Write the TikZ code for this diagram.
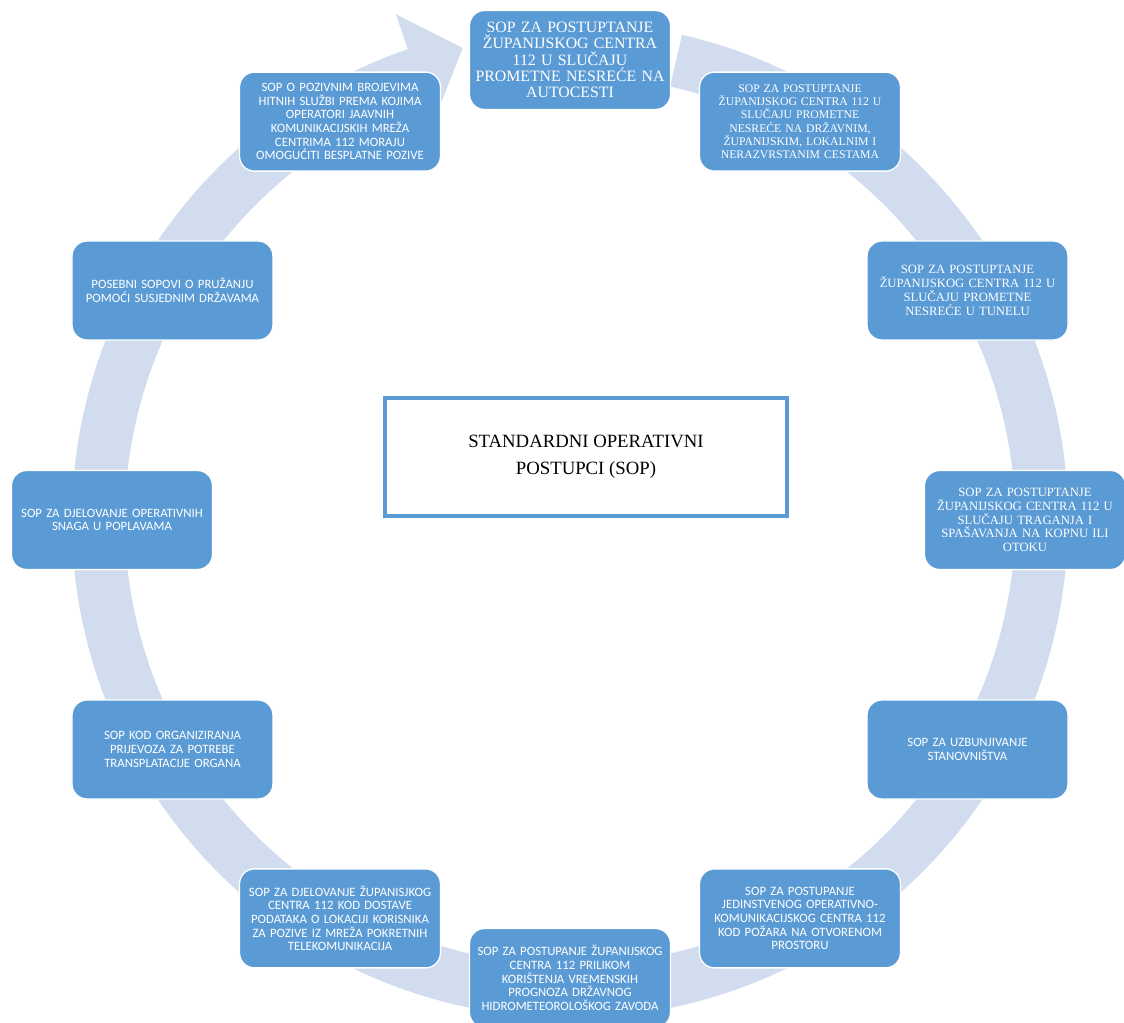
\documentclass[tikz,border=0pt]{standalone}
\usepackage{fontspec}
\setmainfont{Liberation Serif}
\newfontfamily\sopserif{Liberation Serif}
\newfontfamily\sopsans{Carlito}
\usetikzlibrary{positioning}
\definecolor{sopblue}{RGB}{91,155,213}
\definecolor{ringblue}{RGB}{209,221,239}
\begin{document}
\begin{tikzpicture}[x=0.3mm, y=0.3mm,
  sopbox/.style={draw=white, line width=0.4mm, fill=sopblue, rounded corners=4.5mm, minimum width=60.3mm, minimum height=29.7mm, text width=58.5mm, inner sep=0.8mm, align=center, text=white},
  serifsop/.style={sopbox, font=\sopserif\fontsize{10.8}{11.8}\selectfont},
  smallsop/.style={sopbox, font=\sopserif\fontsize{10}{11.3}\selectfont},
  bigsop/.style={sopbox, font=\sopserif\fontsize{13.5}{14}\selectfont},
  sanssop/.style={sopbox, font=\sopsans\fontsize{10.9}{11.7}\selectfont},
  centerbox/.style={draw=sopblue, line width=1mm, fill=white, minimum width=120.6mm, minimum height=35.4mm, align=center, font=\sopserif\fontsize{16}{23}\selectfont}]
\useasboundingbox (-570,-503) rectangle (554,520);
% ring arrow behind the boxes
\fill[ringblue] (77:445) -- (77:498) arc[start angle=77, end angle=-251, radius=498]
  -- (-251:535) -- (-257.2:484) -- (-251:420) -- (-251:445)
  arc[start angle=-251, end angle=77, radius=445] -- cycle;
\node[centerbox] (std) at (16,63) {STANDARDNI OPERATIVNI\\POSTUPCI (SOP)};
\node[bigsop] (autocesta) at (90:460) {SOP ZA POSTUPTANJE\\ŽUPANIJSKOG CENTRA\\112 U SLUČAJU\\PROMETNE NESREĆE NA\\AUTOCESTI};
\node[smallsop] (ceste) at (60:460) {SOP ZA POSTUPTANJE\\ŽUPANIJSKOG CENTRA 112 U\\SLUČAJU PROMETNE\\NESREĆE NA DRŽAVNIM,\\ŽUPANIJSKIM, LOKALNIM I\\NERAZVRSTANIM CESTAMA};
\node[serifsop] (tunel) at (30:459) {SOP ZA POSTUPTANJE\\ŽUPANIJSKOG CENTRA 112 U\\SLUČAJU PROMETNE\\NESREĆE U TUNELU};
\node[serifsop] (traganje) at (0:455) {SOP ZA POSTUPTANJE\\ŽUPANIJSKOG CENTRA 112 U\\SLUČAJU TRAGANJA I\\SPAŠAVANJA NA KOPNU ILI\\OTOKU};
\node[sanssop] (uzbuna) at (-30:459) {SOP ZA UZBUNJIVANJE\\STANOVNIŠTVA};
\node[sanssop] (pozar) at (-60:460) {SOP ZA POSTUPANJE\\JEDINSTVENOG OPERATIVNO-\\KOMUNIKACIJSKOG CENTRA 112\\KOD POŽARA NA OTVORENOM\\PROSTORU};
\node[sanssop] (meteo) at (-90:458) {SOP ZA POSTUPANJE ŽUPANIJSKOG\\CENTRA 112 PRILIKOM\\KORIŠTENJA VREMENSKIH\\PROGNOZA DRŽAVNOG\\HIDROMETEOROLOŠKOG ZAVODA};
\node[sanssop] (lokacija) at (-120:460) {SOP ZA DJELOVANJE ŽUPANISJKOG\\CENTRA 112 KOD DOSTAVE\\PODATAKA O LOKACIJI KORISNIKA\\ZA POZIVE IZ MREŽA POKRETNIH\\TELEKOMUNIKACIJA};
\node[sanssop] (organi) at (-150:459) {SOP KOD ORGANIZIRANJA\\PRIJEVOZA ZA POTREBE\\TRANSPLATACIJE ORGANA};
\node[sanssop] (poplave) at (180:458) {SOP ZA DJELOVANJE OPERATIVNIH\\SNAGA U POPLAVAMA};
\node[sanssop] (pomoc) at (150:459) {POSEBNI SOPOVI O PRUŽANJU\\POMOĆI SUSJEDNIM DRŽAVAMA};
\node[sanssop] (pozivi) at (120:460) {SOP O POZIVNIM BROJEVIMA\\HITNIH SLUŽBI PREMA KOJIMA\\OPERATORI JAAVNIH\\KOMUNIKACIJSKIH MREŽA\\CENTRIMA 112 MORAJU\\OMOGUĆITI BESPLATNE POZIVE};
\end{tikzpicture}
\end{document}
